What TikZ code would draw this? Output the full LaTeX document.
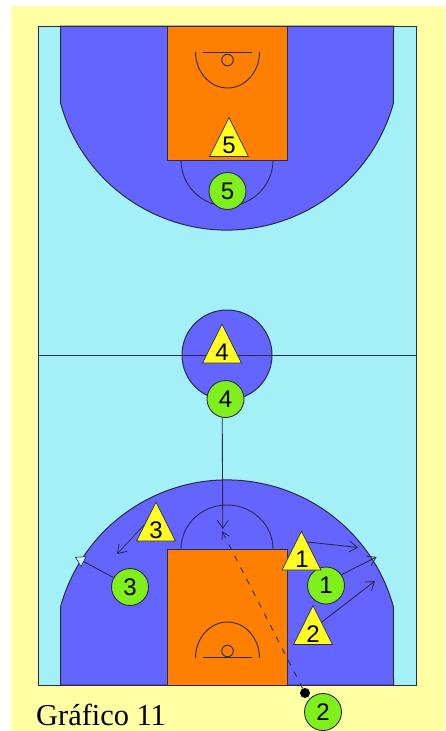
\documentclass[tikz,border=0pt]{standalone}
\usepackage{fontspec}
\setmainfont{Liberation Serif}
\newfontfamily\digitfont{Liberation Sans}
\usetikzlibrary{arrows.meta,shapes.geometric}
\definecolor{pagey}{HTML}{FFFFA3}
\definecolor{courtc}{HTML}{A3F1F7}
\definecolor{zonec}{HTML}{6464FF}
\definecolor{keyc}{HTML}{FF8000}
\definecolor{playerg}{HTML}{80F01C}
\definecolor{triy}{HTML}{FFFF20}
\definecolor{inkc}{HTML}{2A2A48}
\tikzset{
  x=1pt,y=-1pt,
  lin/.style={draw=inkc,line width=1pt},
  thin line/.style={draw=inkc,line width=0.9pt},
  att/.style={circle,draw=inkc,line width=0.9pt,fill=playerg,minimum size=37pt,inner sep=0pt,font=\digitfont\fontsize{24}{24}\selectfont},
  def/.style={isosceles triangle,isosceles triangle apex angle=53,shape border rotate=90,draw=inkc,line width=0.7pt,fill=triy,minimum height=39pt,inner sep=0pt,text width=0pt},
  dig/.style={font=\digitfont\fontsize{24}{24}\selectfont,inner sep=0pt},
  barb/.style={-{Straight Barb[length=8pt,width=11pt,line width=0.8pt]},thin line},
}
\begin{document}
\begin{tikzpicture}
\useasboundingbox (0,0) rectangle (445,731);
\fill[white] (0,0) rectangle (445,731);
\fill[pagey] (11,6) rectangle (445,731);
\fill[courtc] (38.5,26) rectangle (416,685);
% zones
\path[fill=zonec,lin] (60.5,26) -- (60.5,103) arc[start angle=164.7,end angle=15.3,x radius=172.6,y radius=172.6] -- (393.5,26) -- cycle;
\path[fill=zonec,lin] (60.5,685) -- (60.5,607) arc[start angle=164.7,end angle=15.3,x radius=172.6,y radius=-172.6] -- (393.5,685) -- cycle;
\path[fill=zonec,lin] (227,355) circle[radius=45];
\draw[lin] (38.5,26) rectangle (416,685);
\draw[lin] (38.5,355) -- (416,355);
% free throw arcs
\draw[thin line] (181,160) arc[start angle=180,end angle=0,x radius=46,y radius=46];
\draw[thin line] (181,549) arc[start angle=180,end angle=0,x radius=46,y radius=-44];
% keys
\path[fill=keyc,lin] (167,26) rectangle (287.5,160);
\path[fill=keyc,lin] (167,549) rectangle (287.5,685);
% baskets
\draw[thin line] (195.5,52) arc[start angle=180,end angle=0,x radius=32,y radius=36];
\draw[thin line] (195.5,658) arc[start angle=180,end angle=0,x radius=32,y radius=-36];
\draw[lin] (203,52.5) -- (252,52.5);
\draw[lin] (203,657.5) -- (252,657.5);
\draw[thin line] (227.5,60) circle[radius=5.8];
\draw[thin line] (227.5,651) circle[radius=5.8];
% players
\node[att] (c5) at (227.5,191) {5};
\node[att] (c4) at (225.5,399) {4};
\node[att] (c3) at (130,587) {3};
\node[att] (c1) at (326,585.5) {1};
\node[att] (c2) at (323,712) {2};
\node[def] (t5) at (229,144.5) {};
\node[def] (t4) at (222,351) {};
\node[def] (t3) at (156,529) {};
\node[def] (t1) at (301.5,558) {};
\node[def] (t2) at (313,632.5) {};
\node[dig] (d5) at (229,145) {5};
\node[dig] (d4) at (222,352) {4};
\node[dig] (d3) at (156,530) {3};
\node[dig] (d1) at (302,559) {1};
\node[dig] (d2) at (313,634) {2};
\node[circle,fill=black,minimum size=10pt,inner sep=0pt] (ball) at (305,693) {};
% movement ends
\coordinate (e4) at (222.8,529);
\coordinate (e3) at (117,554);
\coordinate (e3c) at (75,557);
\coordinate (e1) at (358,547.5);
\coordinate (e1c) at (376.5,557);
\coordinate (e2) at (375,581);
\coordinate (eb) at (222,531);
\draw[barb] (c4.260) -- (e4);
\draw[barb,line width=0.7pt] (t3.160) -- (e3);
\draw[thin line,-{Triangle[open,length=10pt,width=12pt,fill=courtc!60!white,line width=0.6pt]}] (c3.150) -- (e3c);
\draw[barb] (t1.70) -- (e1);
\draw[barb] (c1.35) -- (e1c);
\draw[barb] (t2.50) -- (e2);
\draw[thin line,dashed,dash pattern=on 6pt off 7pt,-{Straight Barb[length=7pt,width=8pt,line width=0.8pt,sep=0pt]}] (ball) -- (eb);
\node[anchor=base west,inner sep=0pt,font=\fontsize{30.4}{30.4}\selectfont] (cap) at (36,725) {Gráfico 11};
\end{tikzpicture}
\end{document}
